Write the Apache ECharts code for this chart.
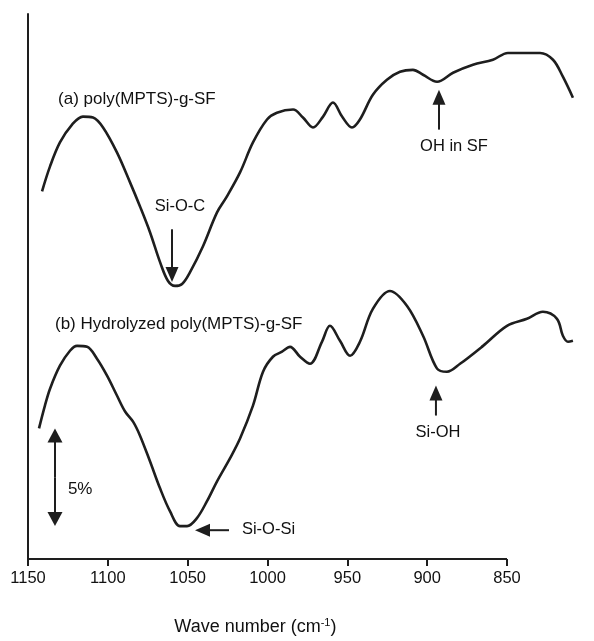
<!DOCTYPE html>
<html>
<head>
<meta charset="utf-8">
<script src="https://cdn.jsdelivr.net/npm/echarts@6/dist/echarts.min.js"></script>
<style>
html,body{margin:0;padding:0;background:#fff;}
#c{width:594px;height:641px;}
</style>
</head>
<body>
<div id="c"></div>
<script>
// Curve (a) poly(MPTS)-g-SF : wavenumber (cm-1) and relative transmittance (%)
const waveA = [1141.2,1136.2,1130.0,1122.4,1115.6,1109.3,1103.0,1094.3,1086.1,1079.9,1073.6,1067.3,1062.3,1057.9,1053.5,1048.5,1040.4,1031.6,1025.4,1017.2,1009.1,1000.3,994.1,984.0,977.8,971.5,965.2,959.0,953.3,947.1,942.1,934.0,925.2,917.0,908.9,902.6,893.8,883.8,871.3,858.8,849.4,829.3,821.2,815.0,808.7];
const transA = [18.89,20.17,21.40,22.32,22.73,22.68,22.17,20.89,19.35,18.12,16.79,15.25,14.28,14.03,14.13,14.74,16.07,17.81,18.63,19.86,21.40,22.58,22.93,23.09,22.68,22.17,22.73,23.45,22.73,22.17,22.58,23.85,24.62,25.03,25.13,24.88,24.52,24.98,25.39,25.65,26.00,26.00,25.65,24.78,23.70];

// Curve (b) Hydrolyzed poly(MPTS)-g-SF
const waveB = [1143.1,1139.4,1136.2,1130.0,1123.7,1119.3,1113.0,1106.8,1100.5,1094.3,1089.2,1084.2,1079.9,1073.6,1067.3,1061.1,1054.8,1050.4,1044.2,1037.9,1031.6,1023.5,1017.2,1009.1,1002.8,996.6,990.9,985.9,979.6,973.4,965.9,960.9,954.6,948.3,942.1,934.0,923.3,912.6,902.6,893.8,887.6,879.4,865.0,850.0,837.5,827.5,818.7,815.0,811.8,808.7];
const transB = [6.71,7.88,8.75,9.93,10.70,10.95,10.90,10.29,9.42,8.40,7.58,7.06,6.35,5.02,3.63,2.46,1.69,1.69,2.10,2.97,3.99,5.17,6.19,7.88,9.62,10.39,10.65,10.90,10.39,10.03,11.16,11.98,11.21,10.44,11.16,12.85,13.77,13.00,11.47,9.78,9.62,10.03,10.95,11.98,12.34,12.70,12.34,11.47,11.16,11.21];

const xTicks = [1150,1100,1050,1000,950,900,850];
const xAxisStart = 1150, xAxisEnd = 850;

// Annotations in data coordinates
const curveLabels = [
  {text:'(a) poly(MPTS)-g-SF', x:1131.2, y:23.60},
  {text:'(b) Hydrolyzed poly(MPTS)-g-SF', x:1133.1, y:12.08}
];
const bandArrows = [
  {label:'Si-O-C', from:[1059.8,16.94], to:[1059.8,14.23], lx:1054.8, ly:18.12, align:'center'},
  {label:'OH in SF', from:[892.6,22.06], to:[892.6,24.11], lx:883.2, ly:21.19, align:'center'},
  {label:'Si-OH', from:[894.5,7.37], to:[894.5,8.91], lx:893.2, ly:6.50, align:'center'},
  {label:'Si-O-Si', from:[1024.1,1.48], to:[1045.4,1.48], lx:1016.0, ly:1.54, align:'left'}
];
const scaleBar = {label:'5%', x:1133.1, y0:1.69, y1:6.71, lx:1125.0, ly:3.58};

const FONT = '"Liberation Sans", Arial, Helvetica, sans-serif';
const INK = '#1e1e1e';

function pairs(xs, ys){ return xs.map((x,i)=>[x, ys[i]]); }

const chart = echarts.init(document.getElementById('c'), null, {renderer:'canvas'});
chart.setOption({
  backgroundColor:'#ffffff',
  animation:false,
  grid:{left:28, right:7.17, top:14, bottom:80, containLabel:false},
  xAxis:{
    type:'value', min:800, max:1150, inverse:true,
    axisLine:{show:false},
    axisTick:{show:true, inside:false, length:7, lineStyle:{color:INK, width:2}, customValues: xTicks},
    axisLabel:{show:true, margin:11, color:'#111', fontSize:16.5, fontFamily:FONT,
      customValues: xTicks, formatter: v => String(v)},
    splitLine:{show:false},
    name:'{t|Wave number (cm}{s|-1}{t|)}',
    nameLocation:'middle', nameGap:58,
    nameTextStyle:{padding:[0,24+80,0,0],
      rich:{t:{fontSize:18, fontFamily:FONT, color:'#111'},
            s:{fontSize:11, fontFamily:FONT, color:'#111', padding:[0,0,9,0]}}}
  },
  yAxis:{
    type:'value', min:0, max:28,
    axisLine:{show:true, lineStyle:{color:INK, width:2}},
    axisTick:{show:false}, axisLabel:{show:false}, splitLine:{show:false}
  },
  series:[
    {type:'line', name:'a', data:pairs(waveA, transA), showSymbol:false, smooth:0.35,
     lineStyle:{color:INK, width:2.6},
     markLine:{silent:true, symbol:['none','none'], label:{show:false},
       lineStyle:{color:INK, width:2, type:'solid'},
       data:[[{coord:[xAxisStart,0]},{coord:[xAxisEnd,0]}]]}},
    {type:'line', name:'b', data:pairs(waveB, transB), showSymbol:false, smooth:0.35,
     lineStyle:{color:INK, width:2.6}}
  ]
});

function px(p){ return chart.convertToPixel({gridIndex:0}, p); }
function arrowHead(tip, dirx, diry, len, w){
  const bx = tip[0]-dirx*len, by = tip[1]-diry*len;
  const nx = -diry, ny = dirx;
  return {type:'polygon', shape:{points:[[tip[0],tip[1]],[bx+nx*w/2,by+ny*w/2],[bx-nx*w/2,by-ny*w/2]]},
          style:{fill:INK}};
}
function arrow(fromD, toD, headLen, headW){
  const a = px(fromD), b = px(toD);
  const dx=b[0]-a[0], dy=b[1]-a[1], L=Math.hypot(dx,dy);
  const ux=dx/L, uy=dy/L;
  return [
    {type:'line', shape:{x1:a[0], y1:a[1], x2:b[0]-ux*headLen*0.6, y2:b[1]-uy*headLen*0.6},
     style:{stroke:INK, lineWidth:2}},
    arrowHead(b, ux, uy, headLen, headW)
  ];
}

const g = [];
curveLabels.forEach(c=>{
  const p = px([c.x, c.y]);
  g.push({type:'text', x:p[0], y:p[1], style:{text:c.text, font:'17px '+FONT, fill:'#111',
    textAlign:'left', textVerticalAlign:'middle'}});
});
bandArrows.forEach(a=>{
  arrow(a.from, a.to, 15, 13).forEach(e=>g.push(e));
  const p = px([a.lx, a.ly]);
  g.push({type:'text', x:p[0], y:p[1], style:{text:a.label, font:'16.5px '+FONT, fill:'#111',
    textAlign:a.align, textVerticalAlign:'middle'}});
});
// 5% scale bar (double arrow)
{
  const mid = (scaleBar.y0+scaleBar.y1)/2;
  arrow([scaleBar.x, mid], [scaleBar.x, scaleBar.y1], 14, 15).forEach(e=>g.push(e));
  arrow([scaleBar.x, mid], [scaleBar.x, scaleBar.y0], 14, 15).forEach(e=>g.push(e));
  const p = px([scaleBar.lx, scaleBar.ly]);
  g.push({type:'text', x:p[0], y:p[1], style:{text:scaleBar.label, font:'17px '+FONT, fill:'#111',
    textAlign:'left', textVerticalAlign:'middle'}});
}
chart.setOption({graphic:{elements:g}});
</script>
</body>
</html>
